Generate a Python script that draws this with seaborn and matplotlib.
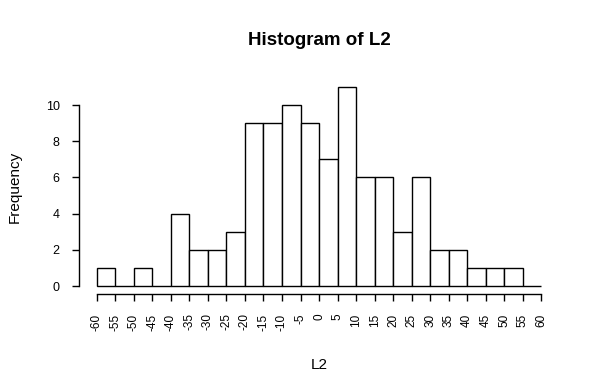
import numpy as np
import pandas as pd
import matplotlib
matplotlib.use("Agg")
import matplotlib.pyplot as plt
import seaborn as sns

# -----------------------------
# Data
# -----------------------------
bin_edges = list(range(-60, 65, 5))
counts = [1, 0, 1, 0, 4, 2, 2, 3, 9, 9, 10, 9, 7, 11, 6, 6, 3, 6, 2, 2, 1, 1, 1, 0]
x_ticks = list(range(-60, 65, 5))
y_ticks = [0, 2, 4, 6, 8, 10]

bin_mids = [(a + b) / 2 for a, b in zip(bin_edges[:-1], bin_edges[1:])]
df = pd.DataFrame({"L2": bin_mids, "n": counts})

# -----------------------------
# Plot
# -----------------------------
sns.set_style("white", {"text.color": "black", "axes.labelcolor": "black",
                        "xtick.color": "black", "ytick.color": "black"})
plt.rcParams["font.family"] = ["Liberation Sans", "DejaVu Sans"]

fig = plt.figure(figsize=(6, 3.91), dpi=100)
ax = fig.add_axes([0.1317, 0.2481, 0.80, 0.5499])

sns.histplot(data=df, x="L2", weights="n", bins=bin_edges, ax=ax,
             stat="count", color="white", edgecolor="black",
             linewidth=1.0, alpha=1)

ax.set_xlim(-64.8, 64.8)
ax.set_ylim(-0.44, 11.44)

for side in ["top", "right"]:
    ax.spines[side].set_visible(False)
ax.spines["left"].set_bounds(0, 10)
ax.spines["bottom"].set_bounds(-60, 60)
for side in ["left", "bottom"]:
    ax.spines[side].set_color("black")
    ax.spines[side].set_linewidth(1.0)

ax.set_xticks(x_ticks)
ax.set_xticklabels([str(t) for t in x_ticks], rotation=90, fontsize=8.5)
ax.set_yticks(y_ticks)
ax.set_yticklabels([str(t) for t in y_ticks], fontsize=9)
ax.tick_params(axis="both", direction="out", length=5, width=1,
               color="black", bottom=True, left=True)
ax.tick_params(axis="x", pad=9)
ax.tick_params(axis="y", pad=9)

ax.set_xlabel("L2", fontsize=11, labelpad=20)
ax.set_ylabel("Frequency", fontsize=11, labelpad=17)
fig.text(0.532, 0.897, "Histogram of L2", ha="center", va="center",
         fontsize=13.5, fontweight="bold")

plt.savefig("out.png", dpi=100)
